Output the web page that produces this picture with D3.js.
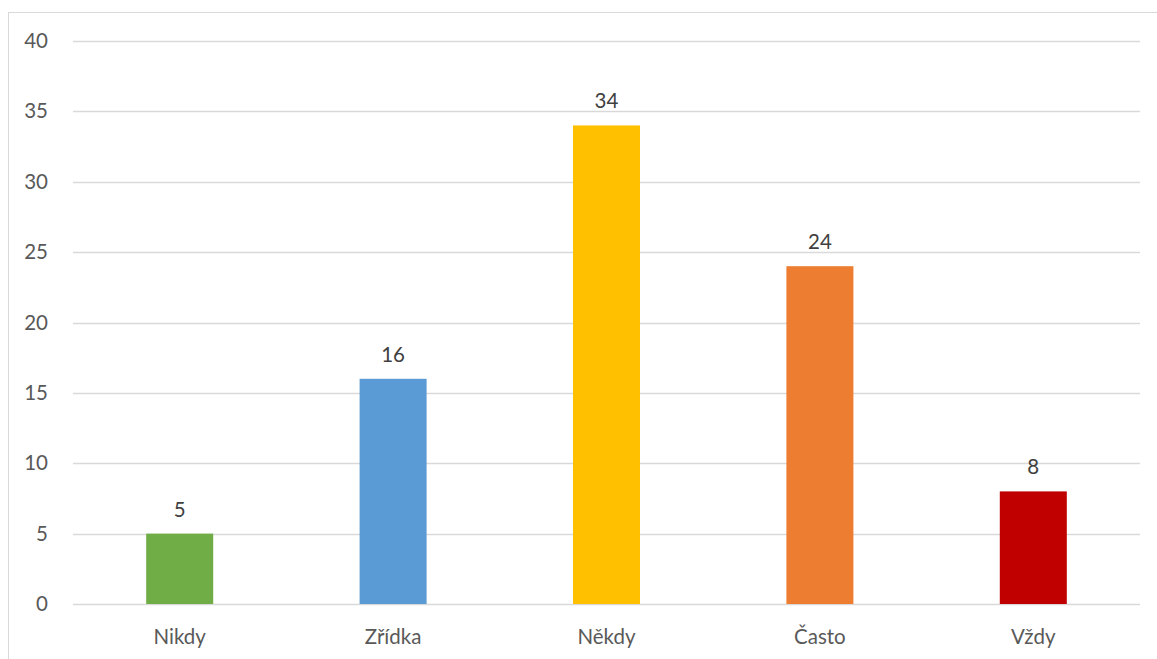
<!DOCTYPE html>
<html><head><meta charset="utf-8">
<script src="https://cdn.jsdelivr.net/npm/d3@7"></script>
<style>html,body{margin:0;padding:0;background:#fff;}svg{display:block;}</style>
</head><body>
<svg id="chart" width="1157" height="659"></svg>
<script>
const categories = ["Nikdy", "Zřídka", "Někdy", "Často", "Vždy"];
const values = [5, 16, 34, 24, 8];
const colors = ["#70AD47", "#5B9BD5", "#FFC000", "#ED7D31", "#C00000"];
const yTicks = [0, 5, 10, 15, 20, 25, 30, 35, 40];

(function () {
const svg = d3.select("#chart");
const font = "Lato, 'Open Sans', sans-serif";
const textColor = "#595959";

// chart border
svg.append("rect").attr("x", 8.5).attr("y", 12.5).attr("width", 1160).attr("height", 660)
  .attr("fill", "none").attr("stroke", "#d9d9d9").attr("stroke-width", 1);

const mLeft = 73, mRight = 1140, mTop = 41, mBottom = 604;
const x = d3.scaleBand().domain(categories).range([mLeft, mRight]).paddingInner(0.686).paddingOuter(0.343);
const y = d3.scaleLinear().domain([0, 40]).range([mBottom, mTop]);

// gridlines
svg.append("g").selectAll("line").data(yTicks).join("line")
  .attr("x1", mLeft).attr("x2", mRight)
  .attr("y1", d => Math.round(y(d)) + 0.5).attr("y2", d => Math.round(y(d)) + 0.5)
  .attr("stroke", "#d9d9d9").attr("stroke-width", 1.5);

// y axis labels
const yAxis = d3.axisLeft(y).tickValues(yTicks).tickSize(0).tickPadding(0);
const yg = svg.append("g").attr("transform", "translate(48,0)").call(yAxis);
yg.select(".domain").remove();
yg.selectAll("text").attr("font-family", font).attr("font-size", 20.5).attr("fill", textColor);

// bars
svg.append("g").selectAll("rect").data(values).join("rect")
  .attr("x", (d, i) => x(categories[i]))
  .attr("width", x.bandwidth())
  .attr("y", d => y(d))
  .attr("height", d => y(0) - y(d))
  .attr("fill", (d, i) => colors[i]);

// value labels
svg.append("g").selectAll("text").data(values).join("text")
  .attr("x", (d, i) => x(categories[i]) + x.bandwidth() / 2)
  .attr("y", d => y(d) - 17)
  .attr("text-anchor", "middle")
  .attr("font-family", font).attr("font-size", 20.5).attr("fill", "#404040")
  .text(d => d);

// x axis labels
const xAxis = d3.axisBottom(x).tickSize(0).tickPadding(0);
const xg = svg.append("g").attr("transform", `translate(0,${mBottom + 25})`).call(xAxis);
xg.select(".domain").remove();
xg.selectAll("text").attr("font-family", font).attr("font-size", 20.5).attr("fill", textColor);
})();
</script>
</body></html>
